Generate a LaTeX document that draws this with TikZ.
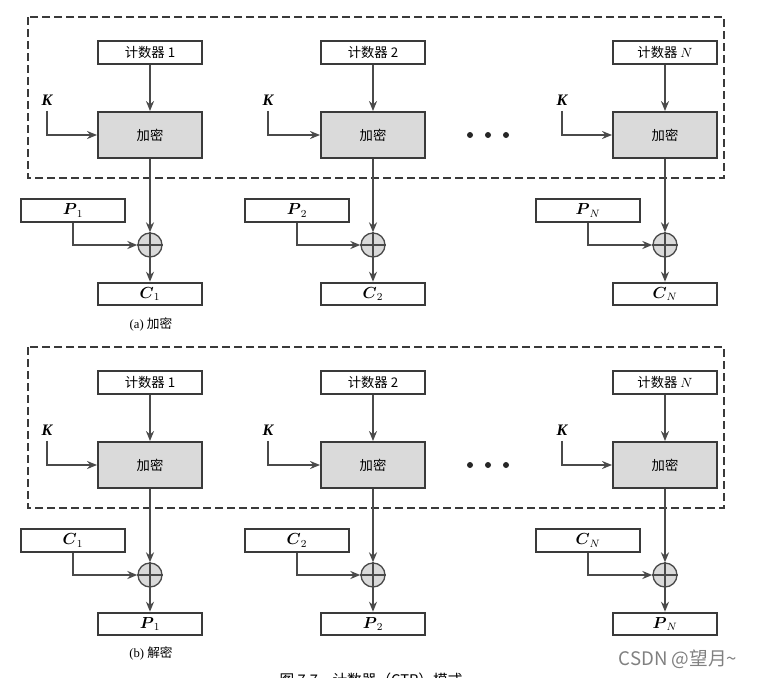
\documentclass[tikz,border=0pt]{standalone}
\usepackage{amsmath}
\usepackage{fontspec}
\setmainfont{Liberation Serif}
\newfontfamily\cjk{Noto Sans CJK SC}
\usetikzlibrary{arrows.meta}
\definecolor{ln}{HTML}{4A4A4A}
\definecolor{bx}{HTML}{3A3A3A}
\definecolor{encfill}{HTML}{DADADA}
\begin{document}
\begin{tikzpicture}[x=0.75pt,y=-0.75pt,
  every node/.style={font=\fontsize{10}{12}\selectfont},
  plainbox/.style={draw=bx, line width=1.4pt, minimum width=78pt, minimum height=17pt, inner sep=0pt, fill=white},
  iobox/.style={plainbox, font=\fontsize{12}{13}\selectfont},
  encbox/.style={draw=bx, line width=1.4pt, minimum width=78pt, minimum height=34.5pt, inner sep=0pt, fill=encfill},
  xorc/.style={circle, draw=ln, line width=1pt, fill=encfill, minimum size=18pt, inner sep=0pt},
  conn/.style={draw=ln, line width=1.1pt, -{Stealth[length=7.5pt,width=6pt]}},
  klab/.style={inner sep=4pt, font=\fontsize{12}{13}\selectfont\itshape\bfseries},
  dashbox/.style={draw=bx, line width=1.4pt, dash pattern=on 6pt off 3pt},
  dotmark/.style={circle, fill=black!85, minimum size=4.5pt, inner sep=0pt}
]
\useasboundingbox (0,0) rectangle (765,678);

\foreach \h/\dy/\inl/\outl in {a/0/P/C, b/330/C/P} {
  \begin{scope}[shift={(0,\dy)}]
    \draw[dashbox] (28,17) rectangle (724,178);
    \foreach \c/\cx/\kx/\px/\cl in {1/150/47/73/{计数器 1}, 2/373/268/297/{计数器 2}, N/665/562/588/{计数器 $N$}} {
      \node[plainbox] (ctr-\h-\c) at (\cx,52.5) {\cjk\cl};
      \node[encbox] (enc-\h-\c) at (\cx,135) {\cjk 加密};
      \node[klab] (k-\h-\c) at (\kx,100) {K};
      \node[iobox] (in-\h-\c) at (\px,210.5) {$\boldsymbol{\inl}_{\c}$};
      \node[xorc] (x-\h-\c) at (\cx,245) {};
      \draw[ln, line width=0.9pt] (x-\h-\c.north) -- (x-\h-\c.south) (x-\h-\c.west) -- (x-\h-\c.east);
      \node[iobox] (out-\h-\c) at (\cx,294) {$\boldsymbol{\outl}_{\c}$};
      \draw[conn] (ctr-\h-\c.south) -- (enc-\h-\c.north);
      \draw[conn] (k-\h-\c.south) |- (enc-\h-\c.west);
      \draw[conn] (enc-\h-\c.south) -- (x-\h-\c.north);
      \draw[conn] (in-\h-\c.south) |- (x-\h-\c.west);
      \draw[conn] (x-\h-\c.south) -- (out-\h-\c.north);
    }
    \node[dotmark] (d1-\h) at (470,135) {};
    \node[dotmark] (d2-\h) at (488,135) {};
    \node[dotmark] (d3-\h) at (506,135) {};
  \end{scope}
}
\node (capa) at (151,324) {\fontsize{9.5}{11}\selectfont (a) {\cjk 加密}};
\node (capb) at (151,653) {\fontsize{9.5}{11}\selectfont (b) {\cjk 解密}};
\node[anchor=north] (fig) at (371,668) {\fontsize{11}{13}\selectfont{\cjk 图 7.7\quad 计数器（CTR）模式}};
\node[text=black!50] (wm) at (678,659) {\cjk\fontsize{14}{16}\selectfont CSDN @望月\char`~};
\end{tikzpicture}
\end{document}
